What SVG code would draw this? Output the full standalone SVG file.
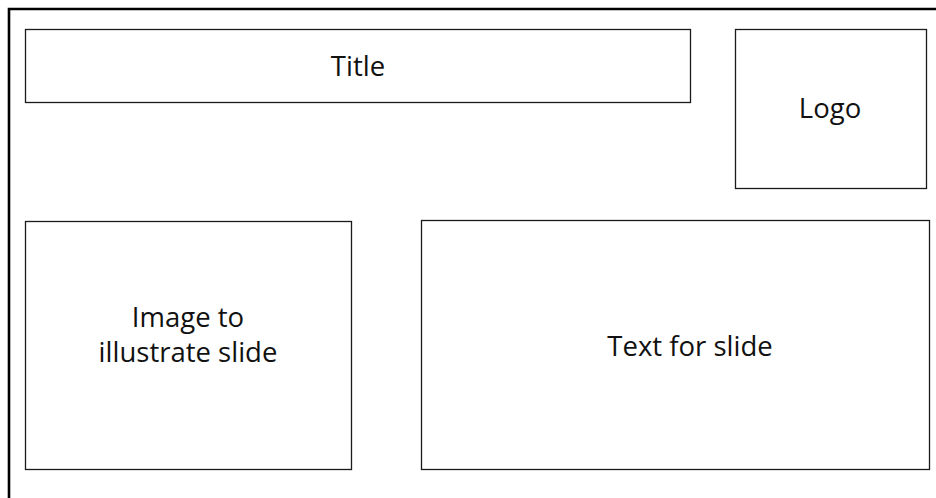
<svg xmlns="http://www.w3.org/2000/svg" width="936" height="498" viewBox="0 0 936 498">
  <style>
    .box { fill: #ffffff; stroke: #1a1a1a; stroke-width: 1.3; }
    .frame { fill: none; stroke: #000000; stroke-width: 2.6; }
    .label { font-family: "Open Sans", "Noto Sans", sans-serif; font-size: 27.5px; fill: #111111; text-anchor: middle; }
  </style>
  <rect width="936" height="498" fill="#ffffff"/>
  <!-- slide frame: top and left edges -->
  <g id="frame">
    <polyline class="frame" points="9,498 9,9 936,9"/>
  </g>
  <g id="title">
    <rect class="box" x="25.5" y="29.5" width="665" height="73"/>
    <text class="label" x="358" y="76">Title</text>
  </g>
  <g id="logo">
    <rect class="box" x="735.5" y="29.5" width="191" height="159"/>
    <text class="label" x="830" y="118">Logo</text>
  </g>
  <g id="image">
    <rect class="box" x="25.5" y="221.5" width="326" height="248"/>
    <text class="label" x="188" y="327">Image to</text>
    <text class="label" x="188" y="362">illustrate slide</text>
  </g>
  <g id="text">
    <rect class="box" x="421.5" y="220.5" width="508" height="249"/>
    <text class="label" x="690" y="356">Text for slide</text>
  </g>
  <g id="connectors"/>
</svg>
